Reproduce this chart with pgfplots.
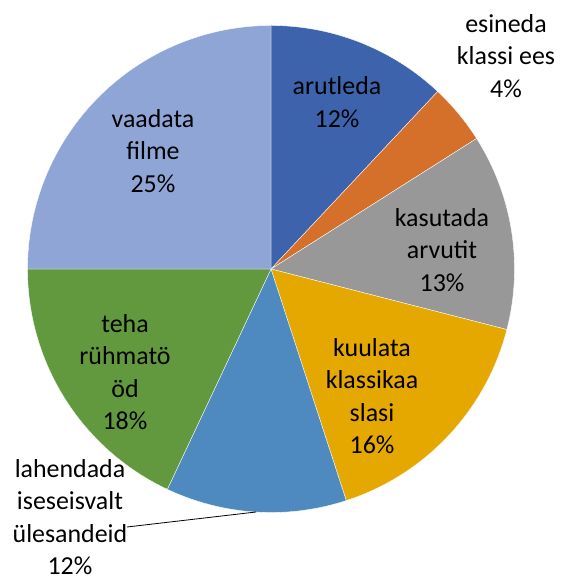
\documentclass[border=0pt]{standalone}
\usepackage{pgfplots}
\pgfplotsset{compat=1.18}
\usepackage{fontspec}
\setmainfont{Carlito}
\definecolor{cA}{RGB}{60,99,172}
\definecolor{cB}{RGB}{213,112,43}
\definecolor{cC}{RGB}{152,152,152}
\definecolor{cD}{RGB}{229,168,0}
\definecolor{cE}{RGB}{78,137,191}
\definecolor{cF}{RGB}{98,153,62}
\definecolor{cG}{RGB}{143,165,214}
\begin{document}
\begin{tikzpicture}
% shares in percent, clockwise from the top
\def\pA{12}\def\pB{4}\def\pC{13}\def\pD{16}\def\pE{12}\def\pF{18}\def\pG{25}
\pgfmathsetmacro{\aA}{90}
\pgfmathsetmacro{\aB}{\aA-3.6*\pA}
\pgfmathsetmacro{\aC}{\aB-3.6*\pB}
\pgfmathsetmacro{\aD}{\aC-3.6*\pC}
\pgfmathsetmacro{\aE}{\aD-3.6*\pD}
\pgfmathsetmacro{\aF}{\aE-3.6*\pE}
\pgfmathsetmacro{\aG}{\aF-3.6*\pF}
\pgfmathsetmacro{\aH}{\aG-3.6*\pG}
\begin{axis}[x=1bp,y=1bp,xmin=-271,xmax=291,ymin=-307,ymax=269,
  hide axis,clip=false,
  every axis plot/.append style={data cs=polar,samples=90,draw=white,line width=0.35bp}]
\addplot[fill=cA,domain=\aB:\aA] (x,243.5) -- (axis cs:0,0) -- cycle;
\addplot[fill=cB,domain=\aC:\aB] (x,243.5) -- (axis cs:0,0) -- cycle;
\addplot[fill=cC,domain=\aD:\aC] (x,243.5) -- (axis cs:0,0) -- cycle;
\addplot[fill=cD,domain=\aE:\aD] (x,243.5) -- (axis cs:0,0) -- cycle;
\addplot[fill=cE,domain=\aF:\aE] (x,243.5) -- (axis cs:0,0) -- cycle;
\addplot[fill=cF,domain=\aG:\aF] (x,243.5) -- (axis cs:0,0) -- cycle;
\addplot[fill=cG,domain=\aH:\aG] (x,243.5) -- (axis cs:0,0) -- cycle;
\addplot[data cs=cart,draw=black,line width=0.8bp] coordinates {(-144,-258) (-15,-243)};
\path (axis cs:-271,-307) (axis cs:291,269);
\begin{scope}[every node/.style={align=center,font=\fontsize{26}{32.5}\selectfont,inner sep=0pt}]
\node at (axis cs:66,167) {arutleda\\12\%};
\node at (axis cs:235,213) {esineda\\klassi ees\\4\%};
\node at (axis cs:171,19) {kasutada\\arvutit\\13\%};
\node at (axis cs:101,-127) {kuulata\\klassikaa\\slasi\\16\%};
\node at (axis cs:-201,-248) {lahendada\\iseseisvalt\\ülesandeid\\12\%};
\node at (axis cs:-146,-103) {teha\\rühmatö\\öd\\18\%};
\node at (axis cs:-118,118) {vaadata\\filme\\25\%};
\end{scope}
\end{axis}
\end{tikzpicture}
\end{document}
